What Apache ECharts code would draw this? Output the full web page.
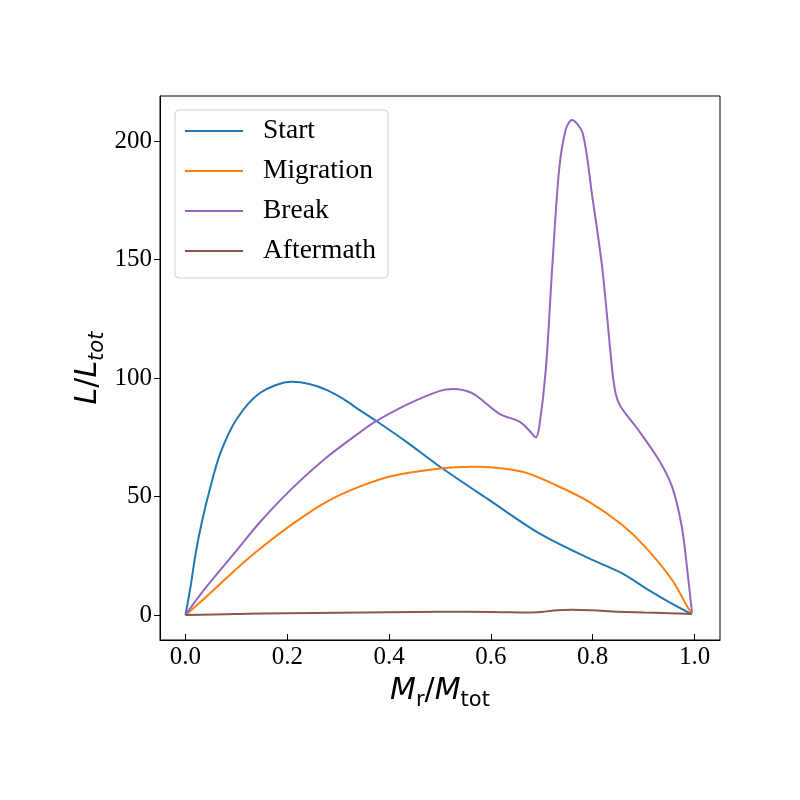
<!DOCTYPE html>
<html>
<head>
<meta charset="utf-8">
<script src="https://cdn.jsdelivr.net/npm/echarts@6/dist/echarts.min.js"></script>
<style>
    html, body { margin: 0; padding: 0; background: #fff; }
    #chart { width: 800px; height: 800px; }
</style>
</head>
<body>
<div id="chart"></div>
<script>
// values
const startX = [0, 0.01, 0.02, 0.033, 0.049, 0.068, 0.1, 0.147, 0.209, 0.245, 0.277, 0.31, 0.342, 0.372, 0.434, 0.5, 0.597, 0.695, 0.793, 0.858, 0.91, 0.95, 0.985, 0.995];
const startY = [0, 12, 26, 40, 54, 68, 82.5, 93.8, 98.4, 97.4, 95, 91.2, 86.5, 82.3, 73.1, 62.6, 48.5, 34.5, 23.9, 17.6, 10.5, 5.5, 1.5, 0.6];

const migrationX = [0, 0.036, 0.1, 0.147, 0.212, 0.277, 0.342, 0.408, 0.5, 0.564, 0.662, 0.727, 0.793, 0.858, 0.903, 0.956, 0.988, 0.995];
const migrationY = [0, 6.8, 19.5, 28.1, 38.7, 47.8, 54.2, 58.8, 61.9, 62.6, 60.5, 54.9, 47.8, 38, 28.8, 14.8, 2.8, 1.0];

const breakX = [0, 0.036, 0.101, 0.147, 0.212, 0.277, 0.342, 0.372, 0.44, 0.5, 0.525, 0.564, 0.616, 0.656, 0.675, 0.688, 0.695, 0.708, 0.721, 0.734, 0.747, 0.759, 0.78, 0.799, 0.819, 0.838, 0.845, 0.855, 0.89, 0.93, 0.956, 0.975, 0.985, 0.995];
const breakY = [0, 10.5, 27.4, 39.4, 54, 66.5, 77, 81.5, 89.3, 94.6, 95.4, 93.5, 85, 81.6, 78, 75, 79.5, 104, 148.7, 188, 204.9, 208.9, 203.5, 176.8, 145.9, 104, 93.5, 87.9, 78, 65.4, 54.1, 37.3, 20.4, 1.0];

const aftermathX = [0, 0.1, 0.2, 0.3, 0.4, 0.5, 0.6, 0.68, 0.7, 0.73, 0.76, 0.8, 0.85, 0.9, 0.95, 0.995];
const aftermathY = [0, 0.5, 0.8, 1.0, 1.2, 1.4, 1.3, 1.1, 1.3, 2.1, 2.3, 2.0, 1.4, 1.1, 0.8, 0.5];

const xTicks = [0, 0.2, 0.4, 0.6, 0.8, 1.0];
const yTicks = [0, 50, 100, 150, 200];

const colors = ['#1f77b4', '#ff7f0e', '#9467bd', '#8c564b'];
const serif = '"Liberation Serif", "Times New Roman", serif';
const mathFont = '"DejaVu Sans", sans-serif';

function pairs(xs, ys) {
    return xs.map((x, i) => [x, ys[i]]);
}

function lineSeries(name, xs, ys, color) {
    return {
        name: name,
        type: 'line',
        data: pairs(xs, ys),
        showSymbol: false,
        symbol: 'none',
        smooth: 0.3,
        lineStyle: { color: color, width: 2 },
        itemStyle: { color: color }
    };
}

let chart = echarts.init(document.getElementById('chart'), null, { renderer: 'canvas' });

let option = {
    backgroundColor: '#fff',
    animation: false,
    grid: {
        left: 160,
        right: 80,
        top: 96,
        bottom: 160,
        show: true,
        borderColor: '#000',
        borderWidth: 1,
        containLabel: false
    },
    legend: {
        orient: 'vertical',
        left: 175,
        top: 110,
        padding: [6, 12, 12, 10],
        itemGap: 10,
        itemWidth: 58,
        itemHeight: 2,
        icon: 'rect',
        backgroundColor: '#fff',
        borderColor: '#d0d0d0',
        borderWidth: 1,
        borderRadius: 4,
        textStyle: {
            fontFamily: serif,
            fontSize: 27.5,
            color: '#000',
            lineHeight: 30,
            padding: [0, 0, 0, 15]
        },
        data: ['Start', 'Migration', 'Break', 'Aftermath']
    },
    xAxis: {
        type: 'value',
        min: -0.05,
        max: 1.05,
        name: '{i|M}{s|r}{n|/}{i|M}{s|tot}',
        nameLocation: 'middle',
        nameGap: 31,
        nameMoveOverlap: false,
        nameTextStyle: {
            rich: {
                i: { fontFamily: mathFont, fontSize: 30, fontStyle: 'italic', color: '#000', lineHeight: 40 },
                n: { fontFamily: mathFont, fontSize: 30, color: '#000', lineHeight: 40 },
                s: { fontFamily: mathFont, fontSize: 21, color: '#000', lineHeight: 21, verticalAlign: 'bottom' }
            }
        },
        splitLine: { show: false },
        axisLine: { show: true, onZero: false, lineStyle: { color: '#000', width: 1 } },
        axisTick: { show: true, inside: true, length: 6, customValues: xTicks, lineStyle: { color: '#000' } },
        axisLabel: {
            customValues: xTicks,
            margin: 5,
            fontFamily: serif,
            fontSize: 25,
            color: '#000',
            formatter: v => v.toFixed(1)
        }
    },
    yAxis: {
        type: 'value',
        min: -10.5,
        max: 219,
        name: '{i|L}{n|/}{i|L}{s|tot}',
        nameLocation: 'middle',
        nameRotate: 90,
        nameGap: 52,
        nameMoveOverlap: false,
        nameTextStyle: {
            rich: {
                i: { fontFamily: mathFont, fontSize: 30, fontStyle: 'italic', color: '#000', lineHeight: 40 },
                n: { fontFamily: mathFont, fontSize: 30, color: '#000', lineHeight: 40 },
                s: { fontFamily: mathFont, fontSize: 21, fontStyle: 'italic', color: '#000', lineHeight: 21, verticalAlign: 'bottom' }
            }
        },
        splitLine: { show: false },
        axisLine: { show: true, onZero: false, lineStyle: { color: '#000', width: 1 } },
        axisTick: { show: true, inside: false, length: 6, customValues: yTicks, lineStyle: { color: '#000' } },
        axisLabel: {
            customValues: yTicks,
            margin: 8,
            fontFamily: serif,
            fontSize: 25,
            color: '#000'
        }
    },
    series: [
        lineSeries('Start', startX, startY, colors[0]),
        lineSeries('Migration', migrationX, migrationY, colors[1]),
        lineSeries('Break', breakX, breakY, colors[2]),
        lineSeries('Aftermath', aftermathX, aftermathY, colors[3])
    ]
};

chart.setOption(option);
</script>
</body>
</html>
